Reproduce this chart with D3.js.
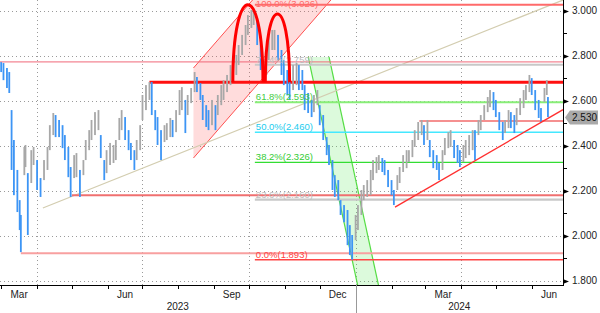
<!DOCTYPE html>
<html><head><meta charset="utf-8">
<script src="https://cdn.jsdelivr.net/npm/d3@7"></script>
<style>
body{margin:0;background:#fff}
svg{display:block}
text{font-family:'Liberation Sans',Arial,sans-serif}
</style>
</head><body>
<svg id="c" width="600" height="313"></svg>
<script>
// ---------- DATA ----------
const dates = [
"2023-03-01","2023-03-03","2023-03-06","2023-03-08","2023-03-10","2023-03-12","2023-03-15","2023-03-17","2023-03-18","2023-03-21","2023-03-22","2023-03-24","2023-03-27","2023-03-29",
"2023-04-01","2023-04-04","2023-04-07","2023-04-10","2023-04-12","2023-04-15","2023-04-17","2023-04-20","2023-04-23","2023-04-25","2023-04-28","2023-04-30",
"2023-05-03","2023-05-05","2023-05-08","2023-05-11","2023-05-13","2023-05-16","2023-05-18","2023-05-21","2023-05-24","2023-05-26","2023-05-29","2023-05-31",
"2023-06-03","2023-06-06","2023-06-08","2023-06-11","2023-06-13","2023-06-16","2023-06-19","2023-06-21","2023-06-24","2023-06-26","2023-06-29",
"2023-07-01","2023-07-04","2023-07-07","2023-07-09","2023-07-12","2023-07-14","2023-07-17","2023-07-20","2023-07-22","2023-07-25","2023-07-27","2023-07-30",
"2023-08-02","2023-08-04","2023-08-07","2023-08-09","2023-08-12","2023-08-15","2023-08-17","2023-08-20","2023-08-22","2023-08-25","2023-08-27","2023-08-30",
"2023-09-02","2023-09-04","2023-09-07","2023-09-09","2023-09-12","2023-09-15","2023-09-17","2023-09-20","2023-09-22","2023-09-25","2023-09-28","2023-09-30",
"2023-10-03","2023-10-05","2023-10-08","2023-10-11","2023-10-13","2023-10-16","2023-10-18","2023-10-21","2023-10-23","2023-10-26","2023-10-29","2023-10-31",
"2023-11-03","2023-11-05","2023-11-08","2023-11-11","2023-11-13","2023-11-16","2023-11-18","2023-11-21","2023-11-24","2023-11-26","2023-11-29",
"2023-12-01","2023-12-04","2023-12-07","2023-12-09","2023-12-12","2023-12-14","2023-12-17","2023-12-19","2023-12-22","2023-12-25","2023-12-27","2023-12-29",
"2024-01-01","2024-01-03","2024-01-06","2024-01-08","2024-01-11","2024-01-14","2024-01-16","2024-01-19","2024-01-21","2024-01-24","2024-01-26","2024-01-29",
"2024-02-01","2024-02-03","2024-02-06","2024-02-08","2024-02-11","2024-02-14","2024-02-16","2024-02-19","2024-02-21","2024-02-24","2024-02-27","2024-02-29",
"2024-03-03","2024-03-05","2024-03-08","2024-03-11","2024-03-13","2024-03-16","2024-03-18","2024-03-21","2024-03-23","2024-03-26","2024-03-29","2024-03-31",
"2024-04-03","2024-04-05","2024-04-08","2024-04-11","2024-04-13","2024-04-16","2024-04-18","2024-04-21","2024-04-24","2024-04-26","2024-04-29",
"2024-05-01","2024-05-04","2024-05-07","2024-05-09","2024-05-12","2024-05-14","2024-05-17","2024-05-19","2024-05-22","2024-05-25","2024-05-27","2024-05-30",
"2024-06-01","2024-06-04","2024-06-07","2024-06-09","2024-06-12","2024-06-14","2024-06-15"
];
const highs = [
2.771,2.767,2.745,2.727,2.558,2.425,2.292,2.158,2.092,2.394,2.403,2.278,2.380,2.394,
2.336,2.256,2.336,2.394,2.491,2.545,2.536,2.514,2.491,2.447,2.394,2.305,
2.358,2.367,2.292,2.336,2.425,2.469,2.514,2.549,2.558,2.447,2.336,2.380,
2.412,2.403,2.425,2.523,2.558,2.527,2.469,2.412,2.380,2.425,2.491,
2.625,2.669,2.683,2.683,2.558,2.527,2.469,2.491,2.500,2.523,2.514,2.558,
2.647,2.660,2.603,2.625,2.656,2.727,2.705,2.678,2.625,2.580,2.558,2.603,
2.580,2.625,2.669,2.691,2.714,2.758,2.780,2.803,2.847,2.892,2.936,2.980,
3.003,3.003,2.958,2.869,2.780,2.825,2.892,2.914,2.914,2.892,2.825,2.780,
2.736,2.714,2.758,2.767,2.758,2.736,2.669,2.634,2.603,2.625,2.647,
2.580,2.536,2.438,2.403,2.336,2.269,2.247,2.158,2.136,2.114,2.047,2.003,
2.092,2.136,2.203,2.225,2.247,2.292,2.336,2.349,2.358,2.345,2.336,2.292,
2.247,2.203,2.269,2.305,2.358,2.380,2.380,2.425,2.469,2.505,2.514,2.491,
2.514,2.425,2.380,2.358,2.323,2.380,2.434,2.460,2.469,2.425,2.403,2.380,
2.403,2.425,2.447,2.469,2.469,2.514,2.536,2.580,2.616,2.647,2.638,
2.603,2.549,2.505,2.514,2.558,2.549,2.536,2.567,2.611,2.647,2.669,2.714,
2.700,2.647,2.603,2.567,2.656,2.691,2.616
];
const lows = [
2.727,2.691,2.656,2.634,2.292,2.180,2.105,2.025,1.927,2.269,2.305,2.003,2.234,2.314,
2.203,2.172,2.247,2.292,2.380,2.447,2.438,2.438,2.389,2.336,2.260,2.172,
2.256,2.260,2.172,2.269,2.336,2.380,2.425,2.447,2.469,2.345,2.247,2.278,
2.314,2.323,2.336,2.425,2.469,2.425,2.380,2.336,2.292,2.336,2.380,
2.514,2.558,2.603,2.536,2.469,2.403,2.336,2.416,2.425,2.438,2.438,2.460,
2.536,2.558,2.456,2.536,2.589,2.638,2.638,2.603,2.514,2.483,2.469,2.491,
2.469,2.536,2.580,2.603,2.638,2.669,2.691,2.714,2.758,2.803,2.847,2.892,
2.923,2.936,2.847,2.736,2.683,2.714,2.780,2.825,2.825,2.780,2.714,2.669,
2.625,2.603,2.647,2.669,2.647,2.647,2.558,2.545,2.527,2.549,2.580,
2.491,2.425,2.358,2.314,2.203,2.172,2.158,2.092,2.060,1.958,1.914,1.893,
1.980,2.025,2.092,2.158,2.172,2.180,2.247,2.278,2.292,2.283,2.269,2.216,
2.180,2.136,2.203,2.234,2.283,2.300,2.327,2.349,2.394,2.425,2.447,2.403,
2.425,2.349,2.300,2.292,2.247,2.292,2.358,2.389,2.394,2.345,2.323,2.305,
2.327,2.345,2.358,2.380,2.336,2.447,2.469,2.514,2.549,2.571,2.558,
2.527,2.469,2.425,2.456,2.478,2.478,2.456,2.491,2.536,2.567,2.603,2.638,
2.625,2.558,2.523,2.505,2.594,2.625,2.527
];
const lastValue = 2.530;

const yTicks = [3.0, 2.8, 2.6, 2.4, 2.2, 2.0, 1.8];
const yMinorTicks = [2.9, 2.7, 2.5, 2.3, 2.1, 1.9];
const xDomain = ["2023-02-28", "2024-06-28"];

// Fibonacci retracement (Dec-2023 low to Oct-2023 high)
const fibStart = "2023-10-06";
const fibPct = ["100.0%", "76.4%", "61.8%", "50.0%", "38.2%", "23.6%", "0.0%"];
const fibVal = [3.026, 2.759, 2.593, 2.460, 2.326, 2.160, 1.893];

// horizontal support / resistance levels
const levelVal = [2.772, 2.682, 2.509, 2.180, 1.922];
const levelStart = ["2023-02-28", "2023-07-07", "2024-02-25", "2023-05-01", "2023-03-18"];

// trendlines [date, value] pairs
const tanLine = [["2023-04-06", 2.123], ["2024-06-28", 3.047]];
const redTrend = [["2024-02-04", 2.127], ["2024-06-28", 2.560]];

// rising (pink) channel: start/end dates, upper & lower values
const pinkDates = ["2023-08-14", "2023-12-15"];
const pinkUpper = [2.745, 3.473];
const pinkLower = [2.345, 3.073];

// falling (green) channel
const greenDates = ["2023-11-21", "2024-01-12"];
const greenUpper = [2.794, 1.560];
const greenLowerShift = 18; // days

// double-top arches: [startDate, endDate, base, peak]
const archStart = ["2023-09-17", "2023-10-15"];
const archEnd = ["2023-10-13", "2023-11-05"];
const archBase = [2.682, 2.682];
const archPeak = [3.026, 2.985];

// ---------- CHART ----------
const W = 600, H = 313;
const plotR = 563, plotB = 285;
const parse = d3.timeParse("%Y-%m-%d");
const x = d3.scaleTime().domain(xDomain.map(parse)).range([0, plotR]);
const y = d3.scaleLinear().domain([3.0, 1.8]).range([10.6, 280.7]);

const svg = d3.select("#c");
svg.append("defs").append("clipPath").attr("id", "clip")
  .append("rect").attr("x", 0).attr("y", 0).attr("width", plotR).attr("height", plotB);
const plot = svg.append("g").attr("clip-path", "url(#clip)");

// grid
plot.append("g").selectAll("line").data(yTicks).join("line")
  .attr("x1", 0).attr("x2", plotR).attr("y1", d => Math.round(y(d)) + 0.5).attr("y2", d => Math.round(y(d)) + 0.5)
  .attr("stroke", "#9a9a9a").attr("stroke-dasharray", "1,3");
const quarterStarts = d3.timeMonth.range(parse(xDomain[0]), parse(xDomain[1])).filter(d => d.getMonth() % 3 === 0);
plot.append("g").selectAll("line").data(quarterStarts).join("line")
  .attr("x1", d => Math.round(x(d)) + 0.5).attr("x2", d => Math.round(x(d)) + 0.5).attr("y1", 0).attr("y2", plotB)
  .attr("stroke", "#9a9a9a").attr("stroke-dasharray", "1,3");

// pink rising channel
{
  const d0 = parse(pinkDates[0]), d1 = parse(pinkDates[1]);
  const pts = [[x(d0), y(pinkLower[0])], [x(d0), y(pinkUpper[0])], [x(d1), y(pinkUpper[1])], [x(d1), y(pinkLower[1])]];
  plot.append("path").attr("d", d3.line()(pts) + "Z").attr("fill", "rgba(255,80,80,0.2)").attr("stroke", "none");
  plot.append("line").attr("x1", pts[1][0]).attr("y1", pts[1][1]).attr("x2", pts[2][0]).attr("y2", pts[2][1])
    .attr("stroke", "#ff5050").attr("stroke-width", 1);
  plot.append("line").attr("x1", pts[0][0]).attr("y1", pts[0][1]).attr("x2", pts[3][0]).attr("y2", pts[3][1])
    .attr("stroke", "#ff5050").attr("stroke-width", 1);
}

// green falling channel
{
  const d0 = parse(greenDates[0]), d1 = parse(greenDates[1]);
  const s0 = d3.timeDay.offset(d0, greenLowerShift), s1 = d3.timeDay.offset(d1, greenLowerShift);
  const up = [[x(d0), y(greenUpper[0])], [x(d1), y(greenUpper[1])]];
  const lo = [[x(s0), y(greenUpper[0])], [x(s1), y(greenUpper[1])]];
  plot.append("path").attr("d", d3.line()([up[0], up[1], lo[1], lo[0]]) + "Z")
    .attr("fill", "rgba(80,230,80,0.2)");
  [up, lo].forEach(l => plot.append("line").attr("x1", l[0][0]).attr("y1", l[0][1]).attr("x2", l[1][0]).attr("y2", l[1][1])
    .attr("stroke", "#55dd44").attr("stroke-width", 1.2));
}

// tan trend line
plot.append("line")
  .attr("x1", x(parse(tanLine[0][0]))).attr("y1", y(tanLine[0][1]))
  .attr("x2", x(parse(tanLine[1][0]))).attr("y2", y(tanLine[1][1]))
  .attr("stroke", "#d3cdb0").attr("stroke-width", 1.2);

// horizontal levels
const levelColor = ["#f06878", "#ff1010", "#f59090", "#f07070", "#f8a0a0"];
const levelWidth = [1, 3, 2, 2, 2.2];
plot.append("g").selectAll("line").data(levelVal).join("line")
  .attr("x1", (d, i) => x(parse(levelStart[i]))).attr("x2", plotR)
  .attr("y1", d => y(d)).attr("y2", d => y(d))
  .attr("stroke", (d, i) => levelColor[i]).attr("stroke-width", (d, i) => levelWidth[i]);

// fib levels
const fibColor = ["#ff6a6a", "#c8c8c8", "#88ee77", "#44e8ff", "#33dd33", "#c8c8c8", "#ff4444"];
const fibText = ["#ff6a6a", "#bdbdbd", "#44cc44", "#22ccee", "#33cc33", "#bdbdbd", "#ff4444"];
const fibWidth = [2, 2, 2, 1.5, 1.3, 2.2, 1.3];
const fx = x(parse(fibStart));
plot.append("g").selectAll("line").data(fibVal).join("line")
  .attr("x1", fx).attr("x2", plotR).attr("y1", d => y(d)).attr("y2", d => y(d))
  .attr("stroke", (d, i) => fibColor[i]).attr("stroke-width", (d, i) => fibWidth[i]);

// price bars
const bars = dates.map((d, i) => ({ d: parse(d), h: highs[i], l: lows[i] }));
plot.append("g").selectAll("rect").data(bars).join("rect")
  .attr("x", d => x(d.d) - 0.9).attr("width", 1.8)
  .attr("y", d => y(d.h)).attr("height", d => Math.max(1, y(d.l) - y(d.h)))
  .attr("fill", (d, i) => {
    if (i === 0) return "#3d95f5";
    const m = (d.h + d.l) / 2, p = (bars[i - 1].h + bars[i - 1].l) / 2;
    return m < p ? "#3d95f5" : "#a8a8a8";
  });

// fib labels
plot.append("g").selectAll("text").data(fibVal).join("text")
  .attr("x", fx + 1).attr("y", (d, i) => i === 0 ? y(d) + 2 : y(d) - 2)
  .attr("font-size", 9.5).attr("fill", (d, i) => fibText[i])
  .text((d, i) => `${fibPct[i]}(${d.toFixed(3)})`);

// double-top arches
archStart.forEach((s, i) => {
  const xa = x(parse(s)), xb = x(parse(archEnd[i]));
  const yb = y(archBase[i]), h = yb - y(archPeak[i]);
  const c = yb - 4 / 3 * h;
  plot.append("path").attr("d", `M${xa},${yb} C${xa},${c} ${xb},${c} ${xb},${yb}`)
    .attr("fill", "none").attr("stroke", "#ff0000").attr("stroke-width", 3);
});

// red rising trend
plot.append("line")
  .attr("x1", x(parse(redTrend[0][0]))).attr("y1", y(redTrend[0][1]))
  .attr("x2", x(parse(redTrend[1][0]))).attr("y2", y(redTrend[1][1]))
  .attr("stroke", "#ff3030").attr("stroke-width", 1.3);

// ---------- AXES ----------
const ax = svg.append("g");
ax.append("line").attr("x1", plotR + 0.5).attr("x2", plotR + 0.5).attr("y1", 0).attr("y2", plotB + 1).attr("stroke", "#000");
ax.append("line").attr("x1", 0).attr("x2", plotR + 1).attr("y1", plotB + 0.5).attr("y2", plotB + 0.5).attr("stroke", "#000");

// y ticks
ax.selectAll(".yt").data(yTicks).join("path").attr("class", "yt")
  .attr("d", d => { const yy = Math.round(y(d)) + 0.5; return `M${plotR + 1},${yy - 2}L${plotR + 6},${yy}L${plotR + 1},${yy + 2}Z`; })
  .attr("fill", "#000");
ax.selectAll(".ytm").data(yMinorTicks).join("line").attr("class", "ytm")
  .attr("x1", plotR).attr("x2", plotR + 4).attr("y1", d => Math.round(y(d)) + 0.5).attr("y2", d => Math.round(y(d)) + 0.5)
  .attr("stroke", "#000");
ax.selectAll(".yl").data(yTicks).join("text").attr("class", "yl")
  .attr("x", plotR + 9).attr("y", d => y(d) + 3.5).attr("font-size", 10).attr("fill", "#222")
  .text(d => d3.format(".3f")(d));

// last price tag
{
  const yy = y(lastValue) + 1;
  ax.append("path").attr("d", `M${plotR + 2},${yy} L${plotR + 7},${yy - 7} H${plotR + 35} V${yy + 7} H${plotR + 7} Z`)
    .attr("fill", "#a9a9a9");
  ax.append("text").attr("x", plotR + 9).attr("y", yy + 3.5).attr("font-size", 10).attr("fill", "#111")
    .text(d3.format(".3f")(lastValue));
}

// x ticks
const months = d3.timeMonth.range(d3.timeMonth.ceil(parse(xDomain[0])), parse(xDomain[1]));
ax.selectAll(".xt").data(months).join("line").attr("class", "xt")
  .attr("x1", d => Math.round(x(d)) + 0.5).attr("x2", d => Math.round(x(d)) + 0.5)
  .attr("y1", plotB).attr("y2", d => d.getMonth() === 0 ? 313 : plotB + 4)
  .attr("stroke", d => d.getMonth() === 0 ? "#999" : "#000");
const qMonths = d3.timeMonth.range(d3.timeMonth.floor(parse(xDomain[0])), parse(xDomain[1])).filter(d => d.getMonth() % 3 === 2);
ax.selectAll(".xl").data(qMonths).join("text").attr("class", "xl")
  .attr("x", d => (Math.max(0, x(d)) + x(d3.timeMonth.offset(d, 1))) / 2)
  .attr("y", 298).attr("text-anchor", "middle").attr("font-size", 10).attr("fill", "#222")
  .text(d => d3.timeFormat("%b")(d));
const years = [2023, 2024];
ax.selectAll(".yr").data(years).join("text").attr("class", "yr")
  .attr("x", d => (Math.max(0, x(new Date(d, 0, 1))) + Math.min(plotR, x(new Date(d + 1, 0, 1)))) / 2)
  .attr("y", 310).attr("text-anchor", "middle").attr("font-size", 10).attr("fill", "#222")
  .text(d => d);
</script>
</body></html>
